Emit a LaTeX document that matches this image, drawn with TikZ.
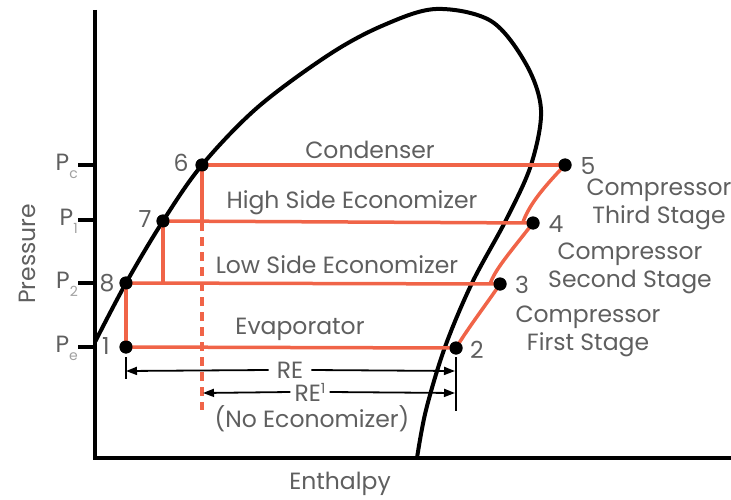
\documentclass[tikz,border=0pt]{standalone}
\usepackage{fontspec}
\setmainfont{Poppins}
\usetikzlibrary{arrows.meta}
\definecolor{orng}{RGB}{240,100,72}
\definecolor{txt}{RGB}{95,95,95}
\definecolor{subtxt}{RGB}{160,160,160}
\newcommand{\sbs}[1]{\raisebox{-8pt}{\fontsize{14}{14}\selectfont\color{subtxt}#1}}
\begin{document}
\begin{tikzpicture}[x=1pt,y=-1pt,
  dome/.style={line width=4pt,black,line join=round},
  cyc/.style={orng,line width=3.5pt},
  cycdash/.style={orng,line width=3.5pt,dash pattern=on 9pt off 6pt},
  dot/.style={circle,fill=black,inner sep=0pt,minimum size=13pt},
  lbl/.style={text=txt,font=\fontsize{23.5}{28}\selectfont,inner sep=1pt},
  axis/.style={line width=4pt,black},
  tick/.style={line width=4pt,black},
  dimln/.style={line width=1.8pt,black},
  dimarr/.style={line width=1.8pt,black,-{Triangle[length=11pt,width=8pt]}}]
\useasboundingbox (0,0) rectangle (731,500);
% axes
\coordinate (yTop) at (95,10);
\coordinate (org) at (95,458);
\coordinate (xEnd) at (731,458);
\draw[axis] (yTop) -- (org) -- (xEnd);
% ticks
\foreach \yy/\nm in {165/c,220/1,283/2,347/e}{
  \coordinate (tk\nm) at (78,\yy);
  \coordinate (ta\nm) at (95,\yy);
  \draw[tick] (tk\nm) -- (ta\nm);
}
\node[lbl,anchor=east] (Pc) at (79,166) {P\sbs{c}};
\node[lbl,anchor=east] (P1) at (79,221) {P\sbs{1}};
\node[lbl,anchor=east] (P2) at (79,284) {P\sbs{2}};
\node[lbl,anchor=east] (Pe) at (79,348) {P\sbs{e}};
\node[lbl,rotate=90] (pressure) at (27,254) {Pressure};
\node[lbl] (enthalpy) at (340,484) {Enthalpy};
% dome
\draw[dome] plot[smooth,tension=0.55] coordinates {(95,342) (126,283) (163,221) (202,165) (258,107) (330,54) (384,25) (436,9) (491,21) (526,64) (541,110) (531,165) (506,220) (472,283) (445,347) (426,410) (417,458)};
% points
\node[dot] (p1) at (126,347) {};
\node[dot] (p2) at (456,348) {};
\node[dot] (p3) at (500,284) {};
\node[dot] (p4) at (533,223) {};
\node[dot] (p5) at (565,165) {};
\node[dot] (p6) at (202,165) {};
\node[dot] (p7) at (163,221) {};
\node[dot] (p8) at (126,283) {};
\coordinate (j4) at (523,222);
\coordinate (j3) at (490,284);
\coordinate (v6) at (202,222);
\coordinate (v7) at (163,284);
\coordinate (dEnd) at (202,410);
% cycle lines
\draw[cyc] (p6.center) -- (p5.center);
\draw[cyc] (p7.center) -- (p4.center);
\draw[cyc] (p8.center) -- (p3.center);
\draw[cyc] (p1.center) -- (p2.center);
\draw[cyc] (p6.center) -- (v6);
\draw[cyc] (p7.center) -- (v7);
\draw[cyc] (p8.center) -- (p1.center);
\draw[cycdash] (v6) -- (dEnd);
\draw[cyc] (j4) .. controls (529,206) and (540,191) .. (p5.center);
\draw[cyc] (j3) .. controls (495,270) and (507,256) .. (p4.center);
\draw[cyc] (p2.center) .. controls (468,328) and (488,302) .. (p3.center);
% dots on top
\foreach \p in {p1,p2,p3,p4,p5,p6,p7,p8}{\fill (\p) circle (6.5pt);}
% number labels
\node[lbl] (n6) at (181,163) {6};
\node[lbl] (n7) at (145,219) {7};
\node[lbl] (n8) at (107,283) {8};
\node[lbl] (n1) at (106,346) {1};
\node[lbl] (n2) at (477,350) {2};
\node[lbl] (n3) at (522,285) {3};
\node[lbl] (n4) at (556,224) {4};
\node[lbl] (n5) at (588,166) {5};
% process labels
\node[lbl] (cond) at (370,150) {Condenser};
\node[lbl] (hse) at (352,203) {High Side Economizer};
\node[lbl] (lse) at (337,265) {Low Side Economizer};
\node[lbl] (evap) at (300,329) {Evaporator};
\node[lbl,align=center] (c3) at (659,204) {Compressor\\Third Stage};
\node[lbl,align=center] (c2) at (630,268) {Compressor\\Second Stage};
\node[lbl,align=center] (c1) at (588,331) {Compressor\\First Stage};
% dimensions
\coordinate (t1a) at (126,357);
\coordinate (t1b) at (126,379);
\coordinate (t2a) at (456,357);
\coordinate (t2b) at (456,411);
\draw[dimln] (t1a) -- (t1b);
\draw[dimln] (t2a) -- (t2b);
\node[lbl,inner xsep=8pt] (re) at (290,370) {RE};
\coordinate (reL) at (126,371);
\coordinate (reR) at (455,371);
\draw[dimarr] (re.west) -- (reL);
\draw[dimarr] (re.east) -- (reR);
\node[lbl,inner xsep=4pt] (re1) at (310,392) {RE\raisebox{8pt}{\fontsize{14}{14}\selectfont 1}};
\coordinate (re1L) at (203,393);
\coordinate (re1R) at (455,393);
\draw[dimarr] (re1.west) -- (re1L);
\draw[dimarr] (re1.east) -- (re1R);
\node[lbl] (noeco) at (312,419) {(No Economizer)};
\end{tikzpicture}
\end{document}
